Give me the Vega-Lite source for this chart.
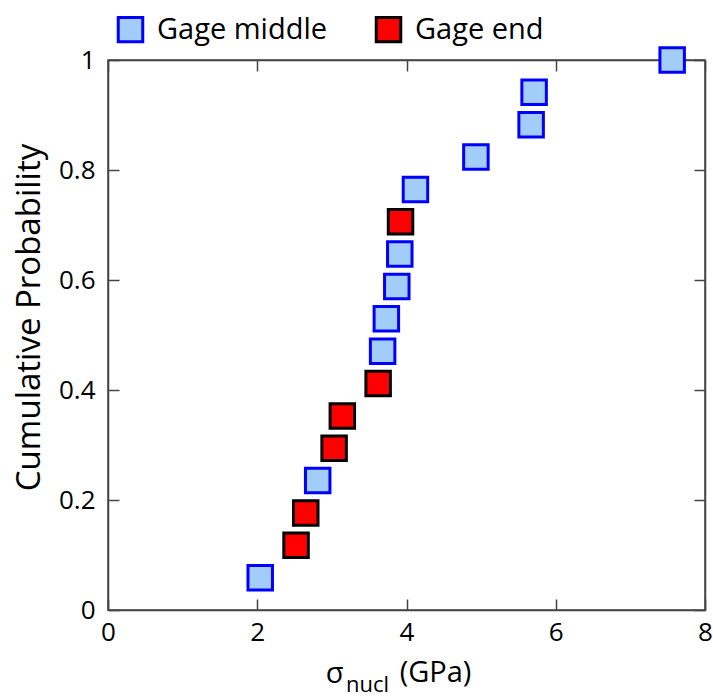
{
  "$schema": "https://vega.github.io/schema/vega-lite/v6.json",
  "width": 597,
  "height": 550,
  "autosize": "none",
  "padding": {"left": 108, "top": 60, "right": 8, "bottom": 88},
  "background": "white",
  "config": {
    "font": "Open Sans",
    "view": {"stroke": "#444444", "strokeWidth": 1.5},
    "axis": {
      "grid": false,
      "domainColor": "#444444",
      "domainWidth": 1.5,
      "tickColor": "#444444",
      "tickWidth": 1.5,
      "tickSize": -11,
      "labelFlush": false,
      "labelOverlap": false,
      "labelColor": "#000000",
      "labelFontSize": 26,
      "labelFont": "Open Sans",
      "titleColor": "#000000",
      "titleFont": "Open Sans",
      "titleFontWeight": "normal"
    }
  },
  "data": {
    "values": [
      {"stress": 2.04, "prob": 0.0588, "group": "Gage middle"},
      {"stress": 2.52, "prob": 0.1176, "group": "Gage end"},
      {"stress": 2.65, "prob": 0.1765, "group": "Gage end"},
      {"stress": 2.81, "prob": 0.2353, "group": "Gage middle"},
      {"stress": 3.03, "prob": 0.2941, "group": "Gage end"},
      {"stress": 3.14, "prob": 0.3529, "group": "Gage end"},
      {"stress": 3.62, "prob": 0.4118, "group": "Gage end"},
      {"stress": 3.68, "prob": 0.4706, "group": "Gage middle"},
      {"stress": 3.73, "prob": 0.5294, "group": "Gage middle"},
      {"stress": 3.87, "prob": 0.5882, "group": "Gage middle"},
      {"stress": 3.91, "prob": 0.6471, "group": "Gage middle"},
      {"stress": 3.92, "prob": 0.7059, "group": "Gage end"},
      {"stress": 4.12, "prob": 0.7647, "group": "Gage middle"},
      {"stress": 4.93, "prob": 0.8235, "group": "Gage middle"},
      {"stress": 5.67, "prob": 0.8824, "group": "Gage middle"},
      {"stress": 5.71, "prob": 0.9412, "group": "Gage middle"},
      {"stress": 7.56, "prob": 1.0, "group": "Gage middle"}
    ]
  },
  "resolve": {"axis": {"x": "independent", "y": "independent"}},
  "layer": [
    {
      "mark": {"type": "point", "shape": "square", "filled": true, "size": 600, "strokeWidth": 3, "opacity": 1, "fillOpacity": 1, "strokeOpacity": 1},
      "encoding": {
        "x": {
          "field": "stress", "type": "quantitative",
          "scale": {"domain": [0, 8], "nice": false, "zero": false},
          "axis": {
            "orient": "bottom", "values": [0, 2, 4, 6, 8], "labelPadding": 20,
            "title": "σ", "titleFontSize": 29, "titleX": 226, "titleY": 72,
            "titleAlign": "center", "titleBaseline": "alphabetic"
          }
        },
        "y": {
          "field": "prob", "type": "quantitative",
          "scale": {"domain": [0, 1], "nice": false},
          "axis": {
            "orient": "left", "values": [0, 0.2, 0.4, 0.6, 0.8, 1], "labelExpr": "'' + datum.value", "labelPadding": 24,
            "title": "Cumulative Probability", "titleFontSize": 33, "titleX": -79, "titleY": 257,
            "titleAngle": -90, "titleAlign": "center", "titleBaseline": "middle"
          }
        },
        "fill": {
          "field": "group", "type": "nominal",
          "scale": {"domain": ["Gage middle", "Gage end"], "range": ["#a3cdf9", "#ff0000"]},
          "legend": {
            "title": null, "orient": "none", "direction": "horizontal", "legendX": 8, "legendY": -45,
            "symbolType": "square", "symbolSize": 600, "symbolStrokeWidth": 3,
            "labelFontSize": 29, "labelFont": "Open Sans", "labelColor": "#000000", "labelOffset": 12,
            "labelLimit": 400, "columnPadding": 42
          }
        },
        "stroke": {
          "field": "group", "type": "nominal",
          "scale": {"domain": ["Gage middle", "Gage end"], "range": ["#0000ff", "#000000"]},
          "legend": null
        }
      }
    },
    {
      "mark": {"type": "point", "opacity": 0},
      "encoding": {
        "x": {
          "field": "stress", "type": "quantitative",
          "axis": {
            "orient": "top", "values": [0, 2, 4, 6, 8], "labels": false,
            "title": "nucl", "titleFontSize": 22, "titleX": 259, "titleY": 631,
            "titleAlign": "center", "titleBaseline": "alphabetic"
          }
        },
        "y": {
          "field": "prob", "type": "quantitative",
          "axis": {
            "orient": "right", "values": [0, 0.2, 0.4, 0.6, 0.8, 1], "labels": false,
            "title": "(GPa)", "titleFontSize": 29, "titleAngle": 0, "titleX": -270, "titleY": 621,
            "titleAlign": "center", "titleBaseline": "alphabetic"
          }
        }
      }
    }
  ]
}
